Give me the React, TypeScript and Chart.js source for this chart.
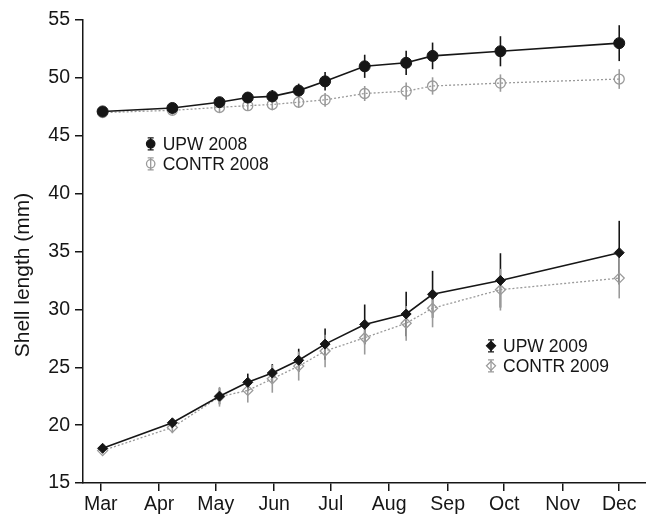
import React, { useEffect, useRef } from "react";
import { Chart, registerables } from "chart.js";

Chart.register(...registerables);

// ---- data ----
const monthLabels = ["Mar", "Apr", "May", "Jun", "Jul", "Aug", "Sep", "Oct", "Nov", "Dec"];
const monthStartDays = [0, 31, 61, 92, 122, 153, 184, 214, 245, 275]; // days since 1 Mar
const sampleDays = [1, 38, 63, 78, 91, 105, 119, 140, 162, 176, 212, 275];
const yTicks = [15, 20, 25, 30, 35, 40, 45, 50, 55];

const upw2008 = [47.1, 47.4, 47.9, 48.3, 48.4, 48.9, 49.7, 51.0, 51.3, 51.9, 52.3, 53.0];
const upw2008Err = [0.2, 0.25, 0.3, 0.45, 0.55, 0.6, 0.8, 1.0, 1.05, 1.15, 1.3, 1.55];
const contr2008 = [47.0, 47.2, 47.45, 47.6, 47.7, 47.9, 48.1, 48.65, 48.85, 49.3, 49.55, 49.9];
const contr2008Err = [0.25, 0.4, 0.5, 0.45, 0.5, 0.5, 0.6, 0.65, 0.75, 0.75, 0.75, 0.85];

const upw2009 = [18.0, 20.2, 22.5, 23.7, 24.5, 25.6, 27.0, 28.7, 29.6, 31.3, 32.5, 34.9];
const upw2009Err = [0.2, 0.3, 0.7, 0.75, 0.77, 1.0, 1.35, 1.72, 1.92, 2.03, 2.35, 2.75];
const contr2009 = [17.8, 19.8, 22.45, 23.0, 24.0, 25.1, 26.4, 27.55, 28.8, 30.1, 31.7, 32.7];
const contr2009Err = [0.25, 0.5, 0.85, 1.05, 1.2, 1.25, 1.4, 1.45, 1.5, 1.65, 1.8, 1.75];

const FONT = "'Liberation Sans', Arial, Helvetica, sans-serif";
const DARK = "#161616";
const GREY = "#9a9a9a";

const toPoints = (vals: number[]) => vals.map((v, i) => ({ x: sampleDays[i], y: v }));

const errorMap: Record<string, { errs: number[]; color: string }> = {
  "UPW 2008": { errs: upw2008Err, color: DARK },
  "UPW 2009": { errs: upw2009Err, color: DARK },
  "CONTR 2008": { errs: contr2008Err, color: GREY },
  "CONTR 2009": { errs: contr2009Err, color: GREY },
};

const errorBarPlugin = {
  id: "errorBars",
  beforeDatasetsDraw(chart: any) {
    const { ctx, scales } = chart;
    const x = scales.x;
    const y = scales.y;
    ctx.save();
    chart.data.datasets.forEach((ds: any) => {
      const info = errorMap[ds.label];
      if (!info) return;
      ctx.strokeStyle = info.color;
      ctx.lineWidth = 1.6;
      ds.data.forEach((pt: any, j: number) => {
        const px = x.getPixelForValue(pt.x);
        ctx.beginPath();
        ctx.moveTo(px, y.getPixelForValue(pt.y - info.errs[j]));
        ctx.lineTo(px, y.getPixelForValue(pt.y + info.errs[j]));
        ctx.stroke();
      });
    });
    ctx.restore();
  },
};

type LegendItem = { label: string; shape: "circle" | "diamond"; filled: boolean; color: string };
const legendGroups: { anchorDay: number; anchorVal: number; items: LegendItem[] }[] = [
  {
    anchorDay: 26.5,
    anchorVal: 44.3,
    items: [
      { label: "UPW 2008", shape: "circle", filled: true, color: DARK },
      { label: "CONTR 2008", shape: "circle", filled: false, color: GREY },
    ],
  },
  {
    anchorDay: 207,
    anchorVal: 26.85,
    items: [
      { label: "UPW 2009", shape: "diamond", filled: true, color: DARK },
      { label: "CONTR 2009", shape: "diamond", filled: false, color: GREY },
    ],
  },
];

const overlayPlugin = {
  id: "overlay",
  afterDraw(chart: any) {
    const { ctx, scales } = chart;
    const x = scales.x;
    const y = scales.y;
    ctx.save();
    legendGroups.forEach((g) => {
      const mx = x.getPixelForValue(g.anchorDay);
      const my0 = y.getPixelForValue(g.anchorVal);
      g.items.forEach((it, k) => {
        const my = my0 + k * 20;
        ctx.strokeStyle = it.color;
        ctx.fillStyle = it.color;
        ctx.lineWidth = 1.3;
        ctx.beginPath();
        ctx.moveTo(mx, my - 6);
        ctx.lineTo(mx, my + 6);
        ctx.moveTo(mx - 3, my - 6);
        ctx.lineTo(mx + 3, my - 6);
        ctx.moveTo(mx - 3, my + 6);
        ctx.lineTo(mx + 3, my + 6);
        ctx.stroke();
        ctx.beginPath();
        if (it.shape === "circle") {
          ctx.arc(mx, my, 4.2, 0, Math.PI * 2);
        } else {
          ctx.moveTo(mx, my - 4.5);
          ctx.lineTo(mx + 4.5, my);
          ctx.lineTo(mx, my + 4.5);
          ctx.lineTo(mx - 4.5, my);
          ctx.closePath();
        }
        if (it.filled) ctx.fill();
        ctx.stroke();
        ctx.fillStyle = DARK;
        ctx.font = `17.5px ${FONT}`;
        ctx.textAlign = "left";
        ctx.textBaseline = "middle";
        ctx.fillText(it.label, mx + 12, my + 1);
      });
    });
    ctx.translate(23, 275);
    ctx.rotate(-Math.PI / 2);
    ctx.fillStyle = DARK;
    ctx.font = `21px ${FONT}`;
    ctx.textAlign = "center";
    ctx.textBaseline = "middle";
    ctx.fillText("Shell length (mm)", 0, 0);
    ctx.restore();
  },
};

export default function App() {
  const ref = useRef<HTMLCanvasElement | null>(null);

  useEffect(() => {
    if (!ref.current) return;
    const chart = new Chart(ref.current, {
      type: "line",
      data: {
        datasets: [
          {
            label: "UPW 2008",
            data: toPoints(upw2008),
            borderColor: DARK,
            borderWidth: 1.6,
            pointStyle: "circle",
            pointRadius: 5.5,
            pointBackgroundColor: DARK,
            pointBorderColor: DARK,
            pointBorderWidth: 1,
          },
          {
            label: "UPW 2009",
            data: toPoints(upw2009),
            borderColor: DARK,
            borderWidth: 1.6,
            pointStyle: "rectRot",
            pointRadius: 5,
            pointBackgroundColor: DARK,
            pointBorderColor: DARK,
            pointBorderWidth: 1,
          },
          {
            label: "CONTR 2008",
            data: toPoints(contr2008),
            borderColor: GREY,
            borderWidth: 1.3,
            borderDash: [2, 2],
            pointStyle: "circle",
            pointRadius: 5,
            pointBackgroundColor: "rgba(255,255,255,0)",
            pointBorderColor: GREY,
            pointBorderWidth: 1.3,
          },
          {
            label: "CONTR 2009",
            data: toPoints(contr2009),
            borderColor: GREY,
            borderWidth: 1.3,
            borderDash: [2, 2],
            pointStyle: "rectRot",
            pointRadius: 5,
            pointBackgroundColor: "rgba(255,255,255,0)",
            pointBorderColor: GREY,
            pointBorderWidth: 1.3,
          },
        ],
      },
      options: {
        responsive: false,
        animation: false,
        layout: { autoPadding: false, padding: { top: 20, left: 0, right: 0, bottom: 0 } },
        plugins: {
          legend: { display: false },
          tooltip: { enabled: false },
        },
        scales: {
          x: {
            type: "linear",
            min: -9.4,
            max: 289.2,
            afterBuildTicks: (s: any) => {
              s.ticks = monthStartDays.map((v) => ({ value: v }));
            },
            afterFit: (s: any) => {
              s.height = 38;
              s.paddingRight = 0;
              s.paddingLeft = 0;
            },
            ticks: {
              callback: (_v: any, i: number) => monthLabels[i],
              color: DARK,
              font: { family: FONT, size: 19.5 },
              padding: 2,
              maxRotation: 0,
              autoSkip: false,
            },
            grid: {
              display: true,
              drawOnChartArea: false,
              drawTicks: true,
              tickLength: 8,
              color: DARK,
              lineWidth: 1.5,
            },
            border: { display: true, color: DARK, width: 1.5 },
          },
          y: {
            type: "linear",
            min: 15,
            max: 55,
            afterBuildTicks: (s: any) => {
              s.ticks = yTicks.map((v) => ({ value: v }));
            },
            afterFit: (s: any) => {
              s.width = 83;
            },
            ticks: {
              color: DARK,
              font: { family: FONT, size: 19.5 },
              padding: 5,
            },
            grid: {
              display: true,
              drawOnChartArea: false,
              drawTicks: true,
              tickLength: 8,
              color: DARK,
              lineWidth: 1.5,
            },
            border: { display: true, color: DARK, width: 1.5 },
          },
        },
      },
      plugins: [errorBarPlugin, overlayPlugin],
    } as any);
    return () => chart.destroy();
  }, []);

  return (
    <div style={{ position: "fixed", left: 0, top: 0, width: 646, height: 521, background: "#fff" }}>
      <canvas ref={ref} width={646} height={521} style={{ display: "block" }} />
    </div>
  );
}
